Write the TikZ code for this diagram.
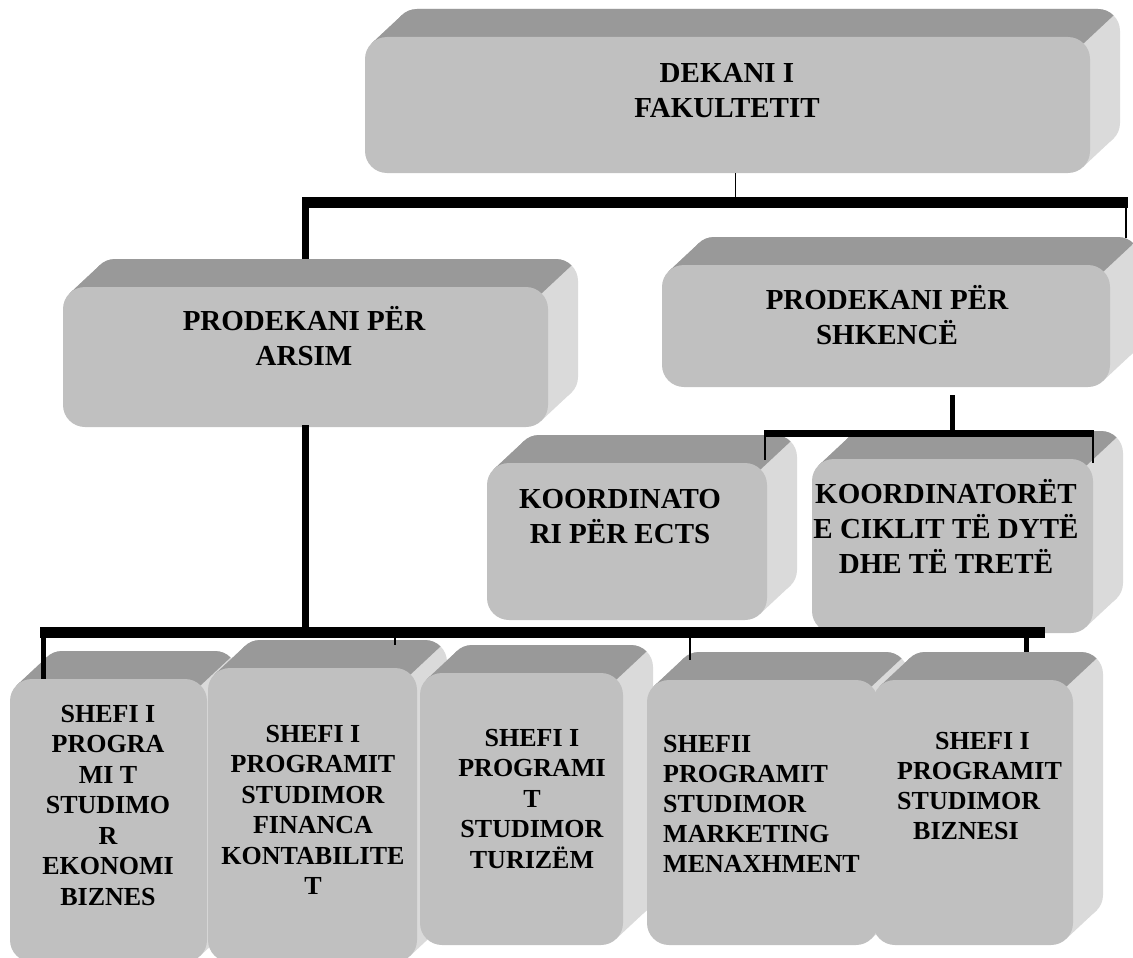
\documentclass[tikz,border=0pt]{standalone}
\usepackage{fontspec}
\setmainfont{Liberation Serif}
\definecolor{frontc}{HTML}{C0C0C0}
\definecolor{topc}{HTML}{999999}
\definecolor{sidec}{HTML}{DADADA}
\tikzset{
  frontface/.style={fill=frontc, rounded corners=22pt, inner sep=0pt, outer sep=0pt},
  bigtxt/.style={font=\bfseries\fontsize{29}{35}\selectfont, align=center, inner sep=0pt, anchor=north},
  smalltxt/.style={font=\bfseries\fontsize{26}{30.5}\selectfont, align=center, inner sep=0pt, anchor=north},
  lefttxt/.style={font=\bfseries\fontsize{26}{30}\selectfont, align=left, inner sep=0pt, anchor=north west},
  heavy/.style={line width=11pt},
  medium/.style={line width=7pt},
  lightbar/.style={line width=5pt},
  hair/.style={line width=1.4pt},
}
% #1 name, #2 x1, #3 y1 (top), #4 x2, #5 y2 (bottom) of the front face
\newcommand\ThreeDBox[5]{%
  \fill[sidec, rounded corners=22pt] (#2+30,#3-28) rectangle (#4+30,#5-28);
  \fill[sidec] (#2+6.5,#3+6.5) -- (#2+36.5,#3-21.5) -- (#4+23.5,#5-34.5) -- (#4-6.5,#5-6.5) -- cycle;
  \begin{scope}
    \clip (#2-100,#3+6.5) -- (#4-6.5,#3+6.5) -- (#4+207.5,#3-193.5) -- (#2-100,#3-193.5) -- cycle;
    \fill[topc, rounded corners=22pt] (#2+30,#3-28) rectangle (#4+30,#5-28);
    \fill[topc] (#2+6.5,#3+6.5) -- (#2+36.5,#3-21.5) -- (#4+23.5,#5-34.5) -- (#4-6.5,#5-6.5) -- cycle;
  \end{scope}
  \node[frontface, minimum width={#4-#2}, minimum height={#5-#3}] (#1) at ({(#2+#4)/2},{(#3+#5)/2}) {};
}
\begin{document}
\begin{tikzpicture}[x=1pt,y=-1pt]
\useasboundingbox (0,0) rectangle (1133,958);
\clip (0,0) rectangle (1133,958);

% top level
\ThreeDBox{dekani}{365}{37}{1090}{173}
\node[bigtxt] (tdekani) at (727,52) {\rule{0pt}{30pt}DEKANI I\\FAKULTETIT};

% second level
\ThreeDBox{arsim}{63}{287}{548}{427}
\node[bigtxt] (tarsim) at (304,300) {\rule{0pt}{30pt}PRODEKANI PËR\\ARSIM};
\ThreeDBox{shkence}{662}{265}{1110}{387}
\node[bigtxt] (tshkence) at (887,279) {\rule{0pt}{30pt}PRODEKANI PËR\\SHKENCË};

% upper connectors
\coordinate (ubL) at (302,202.5);
\coordinate (ubR) at (1127.5,202.5);
\coordinate (shkTR) at (1126,238);
\draw[hair] ([xshift=8pt]dekani.south) -- ([xshift=8pt]dekani.south |- ubL);
\draw[heavy] (ubL) -- (ubR);
\draw[medium] (arsim.north |- ubL) -- ([yshift=28pt]arsim.north);
\draw[hair] (ubR -| shkTR) -- (shkTR);

% coordinators
\ThreeDBox{ects}{487}{463}{767}{620}
\node[bigtxt] (tects) at (620,478) {\rule{0pt}{30pt}KOORDINATO\\RI PËR ECTS};
\ThreeDBox{koord}{812}{459}{1093}{633}
\node[bigtxt] (tkoord) at (946,473) {\rule{0pt}{30pt}KOORDINATORËT\\E CIKLIT TË DYTË\\DHE TË TRETË};

% shkence connectors
\coordinate (sv) at (952,395);
\coordinate (sbL) at (765,433.5);
\coordinate (sbR) at (1093,433.5);
\coordinate (ectsC) at (765,460);
\coordinate (koordC) at (1093,463);
\draw[lightbar] (sv) -- (sv |- sbL);
\draw[medium] ([xshift=-0.7pt]sbL) -- ([xshift=0.7pt]sbR);
\draw[hair] (sbL) -- (ectsC);
\draw[hair] (sbR) -- (koordC);

% bottom row
\ThreeDBox{b1}{10}{679}{207}{962}
\node[smalltxt] (tb1) at (108,696) {\rule{0pt}{26pt}SHEFI I\\PROGRA\\MI T\\STUDIMO\\R\\EKONOMI\\BIZNES};
\ThreeDBox{b2}{208}{668}{417}{962}
\node[smalltxt] (tb2) at (313,716) {\rule{0pt}{26pt}SHEFI I\\PROGRAMIT\\STUDIMOR\\FINANCA\\KONTABILITE\\T};
\ThreeDBox{b3}{420}{673}{623}{945}
\node[smalltxt] (tb3) at (532,720) {\rule{0pt}{26pt}SHEFI I\\PROGRAMI\\T\\STUDIMOR\\TURIZËM};
\ThreeDBox{b4}{647}{680}{878}{945}
\node[lefttxt] (tb4) at (663,726) {\rule{0pt}{26pt}SHEFII\\PROGRAMIT\\STUDIMOR\\MARKETING\\MENAXHMENT};
\ThreeDBox{b5}{873}{680}{1073}{945}
\node[lefttxt] (tb5) at (897,723) {\rule{0pt}{26pt}\hspace*{38pt}SHEFI I\\PROGRAMIT\\STUDIMOR\\\hspace*{16pt}BIZNESI};

% bottom connectors
\coordinate (lbL) at (40,632.5);
\coordinate (lbR) at (1045,632.5);
\coordinate (c1) at ([xshift=33pt]b1.north west);
\coordinate (c2) at (395,645);
\coordinate (c4) at (690,660);
\coordinate (c5) at (1026,652);
\draw[medium] ([yshift=2pt]arsim.south) -- (arsim.south |- lbL);
\draw[heavy] (lbL) -- (lbR);
\draw[lightbar] (c1 |- lbL) -- (c1);
\draw[hair] (c2 |- lbL) -- (c2);
\draw[hair] (c4 |- lbL) -- (c4);
\draw[lightbar] (c5 |- lbL) -- (c5);
\end{tikzpicture}
\end{document}
